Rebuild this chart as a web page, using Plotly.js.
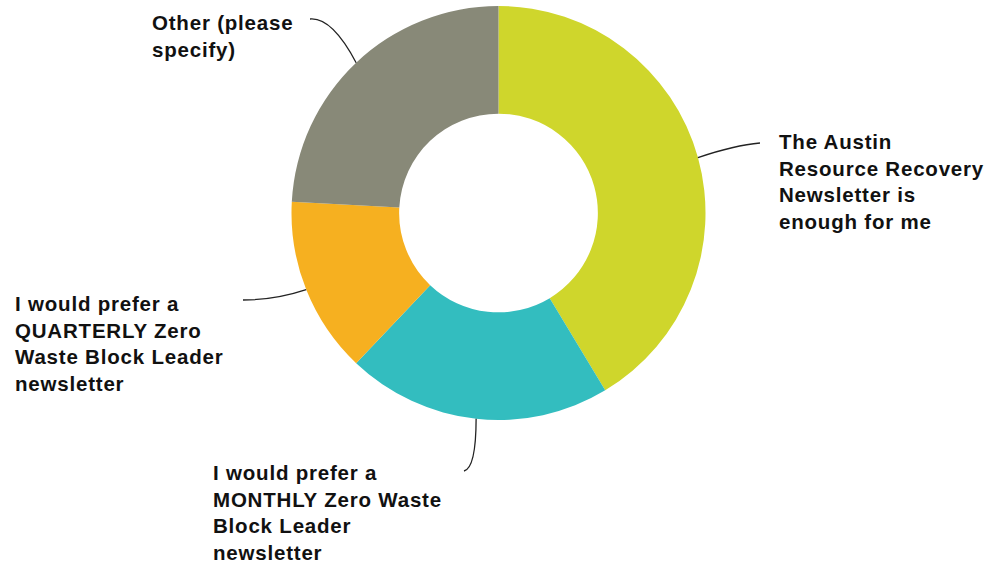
<!DOCTYPE html>
<html>
<head>
<meta charset="utf-8">
<script src="https://cdn.plot.ly/plotly-3.0.1.min.js"></script>
<style>
  html, body { margin: 0; padding: 0; background: #ffffff; }
  #chart { width: 995px; height: 566px; }
  .annotation-text { letter-spacing: 0.8px; }
</style>
</head>
<body>
<div id="chart"></div>
<script>
// ---- data ----
var categories = [
  "The Austin Resource Recovery Newsletter is enough for me",
  "I would prefer a MONTHLY Zero Waste Block Leader newsletter",
  "I would prefer a QUARTERLY Zero Waste Block Leader newsletter",
  "Other (please specify)"
];
var labelLines = [
  "The Austin<br>Resource Recovery<br>Newsletter is<br>enough for me",
  "I would prefer a<br>MONTHLY Zero Waste<br>Block Leader<br>newsletter",
  "I would prefer a<br>QUARTERLY Zero<br>Waste Block Leader<br>newsletter",
  "Other (please<br>specify)"
];
var responses = [12, 6, 4, 7];
var sliceColors = ["#CFD62C", "#33BDBF", "#F6B020", "#888978"];

// ---- layout (pixel frame) ----
var W = 995, H = 566;
var cx = 498.5, cy = 213, R = 207;
var holeFrac = 0.48;
// label text positions (left, top) and leader-line ends / control points
var labelPos = [[777, 128], [211, 459], [13, 290], [150, 9]];
var leaderEnd = [[760, 143], [464, 471], [243, 300], [310, 19]];
var leaderCtrl = [[735, 145], [476, 468], [275, 300], [332, 17]];

var total = responses.reduce(function (a, b) { return a + b; }, 0);
var shapes = [];
var annotations = [];
var acc = 0;
for (var i = 0; i < responses.length; i++) {
  var mid = (acc + responses[i] / 2) / total * 2 * Math.PI; // clockwise from 12 o'clock
  acc += responses[i];
  var sx = cx + R * Math.sin(mid);
  var sy = cy - R * Math.cos(mid);
  shapes.push({
    type: "path", xref: "x", yref: "y",
    path: "M " + sx + "," + sy + " Q " + leaderCtrl[i][0] + "," + leaderCtrl[i][1] + " " + leaderEnd[i][0] + "," + leaderEnd[i][1],
    line: { color: "#222222", width: 1.3 }
  });
  annotations.push({
    xref: "x", yref: "y", x: labelPos[i][0], y: labelPos[i][1],
    xanchor: "left", yanchor: "top", align: "left", showarrow: false,
    text: "<b>" + labelLines[i].split("<br>").join("</b><br><b>") + "</b>",
    font: { family: "Liberation Sans", size: 20.5, color: "#111111" }
  });
}

var trace = {
  type: "pie",
  labels: categories,
  values: responses,
  sort: false,
  direction: "clockwise",
  rotation: 0,
  hole: holeFrac,
  textinfo: "none",
  hoverinfo: "label+percent",
  marker: { colors: sliceColors, line: { width: 0 } },
  domain: { x: [(cx - R) / W, (cx + R) / W], y: [1 - (cy + R) / H, 1 - (cy - R) / H] },
  showlegend: false
};

var layout = {
  width: W, height: H,
  margin: { l: 0, r: 0, t: 0, b: 0 },
  paper_bgcolor: "#ffffff", plot_bgcolor: "rgba(0,0,0,0)",
  showlegend: false,
  xaxis: { range: [0, W], visible: false, fixedrange: true },
  yaxis: { range: [H, 0], visible: false, fixedrange: true },
  shapes: shapes,
  annotations: annotations
};

Plotly.newPlot("chart", [trace], layout, { displayModeBar: false, staticPlot: true });
</script>
</body>
</html>
